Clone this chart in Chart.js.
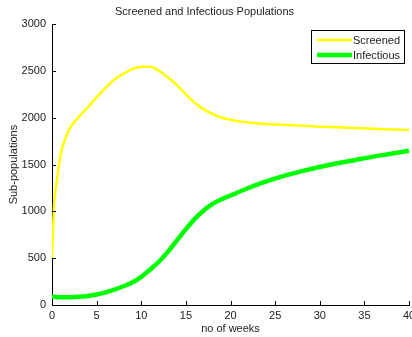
<!DOCTYPE html>
<html>
<head>
<meta charset="utf-8">
<script src="https://cdn.jsdelivr.net/npm/chart.js@4.4.0/dist/chart.umd.min.js"></script>
<style>
  html, body { margin: 0; padding: 0; background: #fff; overflow: hidden; }
  #wrap { width: 412px; height: 337px; overflow: hidden; }
</style>
</head>
<body>
<div id="wrap"><canvas id="chart" width="420" height="337"></canvas></div>
<script>
// weeks since start
const weeks = [0, 0.25, 0.5, 1, 1.5, 2, 3, 4, 5, 6, 7, 8, 9, 10, 11, 12, 13, 14, 15, 16, 17, 18, 19, 20, 22, 24, 26, 28, 30, 32, 34, 36, 38, 40];

const screened = [500, 1100, 1300, 1620, 1780, 1890, 2010, 2110, 2220, 2320, 2410, 2470, 2520, 2545, 2545, 2500, 2430, 2350, 2250, 2160, 2090, 2040, 2000, 1980, 1950, 1935, 1925, 1915, 1905, 1898, 1890, 1882, 1876, 1870];

const infectious = [90, 87, 85, 82, 82, 83, 88, 97, 112, 135, 165, 200, 240, 300, 380, 465, 570, 690, 810, 920, 1010, 1080, 1130, 1170, 1250, 1320, 1380, 1430, 1475, 1515, 1550, 1585, 1615, 1648];

const xTicks = [0, 5, 10, 15, 20, 25, 30, 35, 40];
const yTicks = [0, 500, 1000, 1500, 2000, 2500, 3000];

const FONT = "'Liberation Sans', Arial, Helvetica, sans-serif";
const TEXT = "#222";

// matlab style: small tick marks pointing into the plot
const innerTicks = {
  id: "innerTicks",
  afterDraw(chart) {
    const { ctx, scales: { x, y } } = chart;
    ctx.save();
    ctx.strokeStyle = "#000";
    ctx.lineWidth = 1;
    ctx.beginPath();
    xTicks.forEach(v => {
      const px = Math.round(x.getPixelForValue(v)) + 0.5;
      ctx.moveTo(px, y.bottom);
      ctx.lineTo(px, y.bottom - 4);
    });
    yTicks.forEach(v => {
      const py = Math.round(y.getPixelForValue(v)) + 0.5;
      ctx.moveTo(x.left, py);
      ctx.lineTo(x.left + 4, py);
    });
    ctx.stroke();
    ctx.restore();
  }
};

// boxed legend in the top right corner, like the original
const boxLegend = {
  id: "boxLegend",
  afterDraw(chart) {
    const { ctx } = chart;
    const bx = 311.5, by = 30.5, bw = 93, bh = 33;
    ctx.save();
    ctx.fillStyle = "#fff";
    ctx.fillRect(bx, by, bw, bh);
    ctx.strokeStyle = "#000";
    ctx.lineWidth = 1;
    ctx.strokeRect(bx, by, bw, bh);
    ctx.font = "11px " + FONT;
    ctx.textBaseline = "middle";
    chart.data.datasets.forEach((ds, i) => {
      const ly = 40 + i * 15;
      ctx.strokeStyle = ds.borderColor;
      ctx.lineWidth = ds.borderWidth;
      ctx.beginPath();
      ctx.moveTo(317, ly);
      ctx.lineTo(352, ly);
      ctx.stroke();
      ctx.fillStyle = TEXT;
      ctx.fillText(ds.label, 353, ly + 1);
    });
    ctx.restore();
  }
};

new Chart(document.getElementById("chart"), {
  type: "line",
  data: {
    datasets: [
      {
        label: "Screened",
        data: weeks.map((w, i) => ({ x: w, y: screened[i] })),
        borderColor: "#ffff00",
        borderWidth: 2.5,
        pointRadius: 0,
        cubicInterpolationMode: "monotone",
        fill: false
      },
      {
        label: "Infectious",
        data: weeks.map((w, i) => ({ x: w, y: infectious[i] })),
        borderColor: "#00ff00",
        borderWidth: 4.5,
        pointRadius: 0,
        cubicInterpolationMode: "monotone",
        fill: false
      }
    ]
  },
  options: {
    responsive: false,
    animation: false,
    layout: { padding: { left: 0, right: 11, top: 0, bottom: 0 } },
    plugins: {
      legend: { display: false },
      tooltip: { enabled: false },
      title: {
        display: true,
        text: "Screened and Infectious Populations",
        color: TEXT,
        font: { family: FONT, size: 11, weight: "normal" },
        padding: { top: 5, bottom: 6 }
      }
    },
    scales: {
      x: {
        type: "linear",
        min: 0,
        max: 40,
        afterFit: s => { s.height = 32; },
        afterBuildTicks: s => { s.ticks = xTicks.map(v => ({ value: v })); },
        ticks: { color: TEXT, font: { family: FONT, size: 11 }, padding: 4, maxRotation: 0, callback: v => String(v) },
        grid: { display: false, drawTicks: false },
        border: { display: true, color: "#000", width: 1 },
        title: {
          display: true,
          text: "no of weeks",
          color: TEXT,
          font: { family: FONT, size: 11 },
          padding: { top: 1, bottom: 1 }
        }
      },
      y: {
        min: 0,
        max: 3000,
        afterFit: s => { s.width = 52; },
        afterBuildTicks: s => { s.ticks = yTicks.map(v => ({ value: v })); },
        ticks: { color: TEXT, font: { family: FONT, size: 11 }, padding: 6, callback: v => String(v) },
        grid: { display: false, drawTicks: false },
        border: { display: true, color: "#000", width: 1 },
        title: {
          display: true,
          text: "Sub-populations",
          color: TEXT,
          font: { family: FONT, size: 11 },
          padding: { top: 7, bottom: 2 }
        }
      }
    }
  },
  plugins: [innerTicks, boxLegend]
});
</script>
</body>
</html>
